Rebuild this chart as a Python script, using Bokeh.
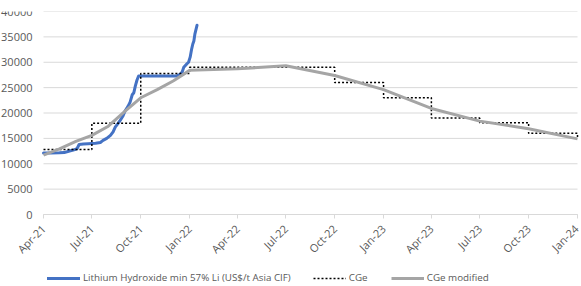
import pandas as pd
from bokeh.plotting import figure
from bokeh.models import Range1d, FixedTicker, Legend, LegendItem
from bokeh.embed import file_html
from bokeh.resources import INLINE

# Lithium Hydroxide min 57% Li (US$/t Asia CIF)
lioh_dates = ["2021-04-01", "2021-04-15", "2021-05-01", "2021-05-10", "2021-05-20",
              "2021-05-27", "2021-06-03", "2021-06-07", "2021-06-15", "2021-06-24",
              "2021-07-08", "2021-07-17", "2021-07-22", "2021-07-29", "2021-08-05",
              "2021-08-10", "2021-08-14", "2021-08-19", "2021-08-23", "2021-08-28",
              "2021-09-02", "2021-09-07", "2021-09-11", "2021-09-15", "2021-09-18",
              "2021-09-21", "2021-09-24", "2021-09-27", "2021-10-15", "2021-11-15",
              "2021-12-08", "2021-12-14", "2021-12-18", "2021-12-21", "2021-12-27",
              "2021-12-30", "2022-01-02", "2022-01-05", "2022-01-07", "2022-01-09",
              "2022-01-11", "2022-01-15"]
lioh_values = [12100, 12100, 12150, 12200, 12500,
               12700, 12950, 13800, 13900, 13950,
               14050, 14200, 14600, 15000, 15600,
               16300, 17200, 17900, 18500, 19300,
               20500, 21300, 22150, 23600, 24000,
               25400, 26500, 27300, 27300, 27300,
               27300, 27600, 28100, 29000, 29700,
               30000, 31000, 32700, 33600, 34200,
               35600, 37300]

# CGe (quarterly step forecast)
cge_dates = ["2021-04-01", "2021-07-01", "2021-10-01", "2022-01-01", "2022-04-01",
             "2022-07-01", "2022-10-01", "2023-01-01", "2023-04-01", "2023-07-01",
             "2023-10-01", "2024-01-01"]
cge_values = [12800, 18000, 27800, 29000, 29000,
              29000, 26000, 23000, 19000, 18100,
              16000, 15000]

# CGe modified
cgem_dates = ["2021-04-01", "2021-05-01", "2021-06-01", "2021-07-01", "2021-08-01",
              "2021-09-01", "2021-10-01", "2021-11-01", "2021-12-01", "2022-01-01",
              "2022-04-01", "2022-07-01", "2022-10-01", "2023-01-01", "2023-04-01",
              "2023-07-01", "2023-10-01", "2024-01-01"]
cgem_values = [11700, 12950, 14400, 15600, 17400,
               20300, 23000, 24600, 26300, 28400,
               28700, 29300, 27400, 24600, 20900,
               18400, 16900, 14900]

tick_dates = ["2021-04-01", "2021-07-01", "2021-10-01", "2022-01-01", "2022-04-01",
              "2022-07-01", "2022-10-01", "2023-01-01", "2023-04-01", "2023-07-01",
              "2023-10-01", "2024-01-01"]
tick_labels = ["Apr-21", "Jul-21", "Oct-21", "Jan-22", "Apr-22", "Jul-22",
               "Oct-22", "Jan-23", "Apr-23", "Jul-23", "Oct-23", "Jan-24"]
y_ticks = [0, 5000, 10000, 15000, 20000, 25000, 30000, 35000, 40000]
y_max = 40000


def ms(d):
    return int(pd.Timestamp(d).value // 10**6)


FONT = "Open Sans"
GRID = "#d9d9d9"
TXT = "#595959"

# layout (pixels)
TOP = 11            # frame top
PLOT_H = 203        # height of the 0..40000 value area
BELOW = 72          # room under the value axis for tick labels + legend
FRAME_H = PLOT_H + BELOW
FRAME_W = 581
LEFT_PAD = 43       # room left of the first date for value labels
RIGHT_PAD = 4
y_start = -y_max * BELOW / PLOT_H

x0, x1 = ms(tick_dates[0]), ms(tick_dates[-1])
ms_per_px = (x1 - x0) / (FRAME_W - LEFT_PAD - RIGHT_PAD)

p = figure(x_axis_type="datetime", output_backend="svg", toolbar_location=None,
           frame_width=FRAME_W, frame_height=FRAME_H,
           min_border_left=0, min_border_right=0, min_border_top=TOP,
           min_border_bottom=0,
           x_range=Range1d(x0 - LEFT_PAD * ms_per_px, x1 + RIGHT_PAD * ms_per_px),
           y_range=Range1d(y_start, y_max))
p.outline_line_color = None
p.background_fill_color = "white"
p.border_fill_color = "white"

# horizontal gridlines spanning only the date range
p.segment(x0=[x0] * len(y_ticks), y0=y_ticks, x1=[x1] * len(y_ticks), y1=y_ticks,
          line_color=GRID, line_width=1, level="underlay")

r_lioh = p.line(pd.to_datetime(lioh_dates), lioh_values, line_color="#4472C4",
                line_width=3, line_join="round", line_cap="round")
r_cge = p.step(pd.to_datetime(cge_dates), cge_values, mode="after",
               line_color="black", line_width=1.5, line_dash="2 2")
r_cgem = p.line(pd.to_datetime(cgem_dates), cgem_values, line_color="#a5a5a5",
                line_width=3, line_join="round")

# x axis placed at value 0
xt = [ms(d) for d in tick_dates]
p.xaxis.fixed_location = 0
p.xaxis.bounds = (x0, x1)
p.xaxis.ticker = FixedTicker(ticks=xt)
p.xaxis.major_label_overrides = {t: l for t, l in zip(xt, tick_labels)}
p.xaxis.major_label_orientation = 0.785398
p.xaxis.axis_line_color = GRID
p.xaxis.major_tick_line_color = GRID
p.xaxis.major_tick_out = 4
p.xaxis.major_tick_in = 0
p.xaxis.minor_tick_line_color = None
p.xaxis.major_label_text_font = FONT
p.xaxis.major_label_text_font_size = "11px"
p.xaxis.major_label_text_color = TXT
p.xaxis.major_label_standoff = 8

# y axis placed at the first date
p.yaxis.fixed_location = x0
p.yaxis.bounds = (0, y_max)
p.yaxis.ticker = FixedTicker(ticks=y_ticks)
p.yaxis.axis_line_color = None
p.yaxis.major_tick_line_color = None
p.yaxis.major_tick_out = 0
p.yaxis.major_tick_in = 0
p.yaxis.minor_tick_line_color = None
p.yaxis.major_label_text_font = FONT
p.yaxis.major_label_text_font_size = "11px"
p.yaxis.major_label_text_color = TXT
p.yaxis.major_label_standoff = 11

p.xgrid.grid_line_color = None
p.ygrid.grid_line_color = None

legend = Legend(items=[
    LegendItem(label="Lithium Hydroxide min 57% Li (US$/t Asia CIF)", renderers=[r_lioh]),
    LegendItem(label="CGe", renderers=[r_cge]),
    LegendItem(label="CGe modified", renderers=[r_cgem]),
], orientation="horizontal", location=(47, 2), padding=0, margin=0,
    spacing=22, label_standoff=3, glyph_width=33, glyph_height=10,
    label_height=10, border_line_color=None, background_fill_alpha=0,
    label_text_font=FONT, label_text_font_size="9.8px", label_text_color=TXT)
p.add_layout(legend, "center")

open("out.html", "w").write(file_html(p, INLINE))
